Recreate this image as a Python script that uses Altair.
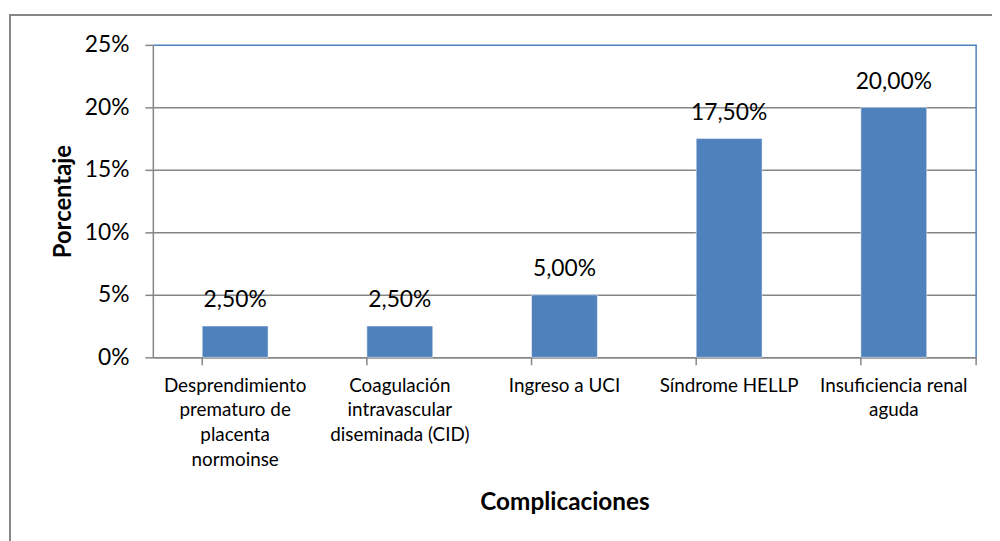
import altair as alt
import pandas as pd

categories = ["Desprendimiento prematuro de placenta normoinse",
              "Coagulación intravascular diseminada (CID)",
              "Ingreso a UCI",
              "Síndrome HELLP",
              "Insuficiencia renal aguda"]
cat_labels = ["Desprendimiento|prematuro de|placenta|normoinse",
              "Coagulación|intravascular|diseminada (CID)",
              "Ingreso a UCI",
              "Síndrome HELLP",
              "Insuficiencia renal|aguda"]
values = [0.025, 0.025, 0.05, 0.175, 0.20]
value_text = ["2,50%", "2,50%", "5,00%", "17,50%", "20,00%"]
y_ticks = [0, 0.05, 0.10, 0.15, 0.20, 0.25]

FONT = "Lato"
BLUE = "#4F81BD"
GRAY = "#868686"

df = pd.DataFrame({"cat": categories, "label": cat_labels, "v": values, "t": value_text})

label_map = "{" + ",".join(f"'{c}': '{l}'" for c, l in zip(categories, cat_labels)) + "}"

xscale = alt.Scale(domain=categories, paddingInner=0.6, paddingOuter=0.3)
yscale = alt.Scale(domain=[0, 0.25])

base = alt.Chart(df)

bars = base.mark_bar(color=BLUE, stroke="white", strokeWidth=0.5).encode(
    x=alt.X("cat:N", scale=xscale, sort=categories,
            axis=alt.Axis(title="Complicaciones", labelAngle=0, ticks=False,
                          domainColor=GRAY, domainWidth=1.5,
                          labelExpr=f"split({label_map}[datum.label], '|')",
                          labelFont=FONT, labelFontSize=19, labelColor="black",
                          labelLineHeight=25, labelPadding=19, labelBaseline="top",
                          labelLimit=200,
                          titleFont=FONT, titleFontSize=24.5, titleFontWeight="bold",
                          titleColor="black", titlePadding=21)),
    y=alt.Y("v:Q", scale=yscale,
            axis=alt.Axis(title="Porcentaje", values=y_ticks, format=".0%",
                          domainColor=GRAY, domainWidth=1.5,
                          tickColor=GRAY, tickSize=8, tickWidth=1.5,
                          gridColor={"condition": {"test": "datum.value >= 0.25", "value": BLUE},
                                     "value": GRAY},
                          gridWidth=1.5,
                          labelFont=FONT, labelFontSize=23, labelColor="black", labelPadding=16,
                          titleFont=FONT, titleFontSize=24, titleFontWeight="bold",
                          titleColor="black", titlePadding=9)),
)

text = base.mark_text(font=FONT, fontSize=23, color="black", baseline="alphabetic", dy=-19).encode(
    x=alt.X("cat:N", scale=xscale, sort=categories),
    y=alt.Y("v:Q", scale=yscale),
    text="t:N",
)

xticks = base.mark_rule(color=GRAY, strokeWidth=1.5).encode(
    x=alt.X("cat:N", scale=xscale, sort=categories, bandPosition=0),
    y=alt.value(315), y2=alt.value(323),
)
last_tick = alt.Chart(pd.DataFrame({"a": [0]})).mark_rule(color=GRAY, strokeWidth=1.5).encode(
    x=alt.value(830), y=alt.value(315), y2=alt.value(323),
)
right_border = alt.Chart(pd.DataFrame({"a": [0]})).mark_rule(color=BLUE, strokeWidth=1.5).encode(
    x=alt.value(830), y=alt.value(0), y2=alt.value(315),
)
outer = alt.Chart(pd.DataFrame({"a": [0]})).mark_rect(
    fill=None, stroke=GRAY, strokeWidth=2, clip=False).encode(
    x=alt.value(-144), x2=alt.value(900), y=alt.value(-30), y2=alt.value(560),
)

chart = alt.layer(outer, right_border, bars, xticks, last_tick, text).properties(
    width=830, height=315,
    autosize=alt.AutoSizeParams(type="none"),
    padding={"left": 146, "top": 35, "right": 16, "bottom": 183},
    background="white",
).configure_view(stroke=None)

chart.save("out.html", embed_options={"renderer": "svg", "actions": False})
